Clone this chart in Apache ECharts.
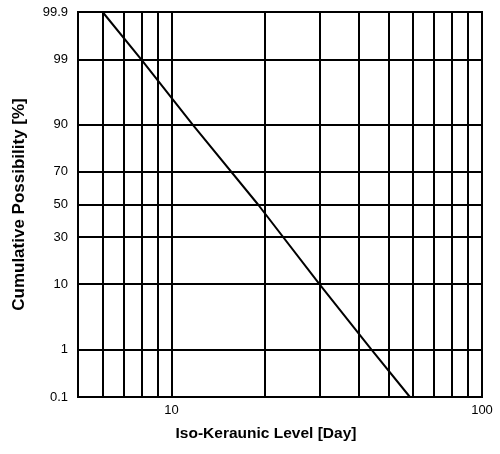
<!DOCTYPE html>
<html>
<head>
<meta charset="utf-8">
<script src="https://cdn.jsdelivr.net/npm/echarts@6/dist/echarts.min.js"></script>
<style>
  html, body { margin: 0; padding: 0; background: #fff; }
  #chart { width: 500px; height: 454px; }
</style>
</head>
<body>
<div id="chart"></div>
<script>
// values
const days = [6, 8, 11.7, 19, 30, 44, 58.6];
const percents = [99.9, 99, 90, 50, 10, 1, 0.1];
const probTicks = [0.1, 1, 10, 30, 50, 70, 90, 99, 99.9];
const dayGrid = [6, 7, 8, 9, 10, 20, 30, 40, 50, 60, 70, 80, 90];

// inverse normal cdf (Acklam), the y axis is a probability scale
const probit = (pct) => {
  const p = pct / 100;
  const a = [-39.69683028665376, 220.9460984245205, -275.9285104469687, 138.3577518672690, -30.66479806614716, 2.506628277459239];
  const b = [-54.47609879822406, 161.5858368580409, -155.6989798598866, 66.80131188771972, -13.28068155288572];
  const c = [-0.007784894002430293, -0.3223964580411365, -2.400758277161838, -2.549732539343734, 4.374664141464968, 2.938163982698783];
  const d = [0.007784695709041462, 0.3224671290700398, 2.445134137142996, 3.754408661907416];
  const pl = 0.02425;
  let q, r;
  if (p < pl) {
    q = Math.sqrt(-2 * Math.log(p));
    return (((((c[0] * q + c[1]) * q + c[2]) * q + c[3]) * q + c[4]) * q + c[5]) /
      ((((d[0] * q + d[1]) * q + d[2]) * q + d[3]) * q + 1);
  }
  if (p > 1 - pl) {
    q = Math.sqrt(-2 * Math.log(1 - p));
    return -(((((c[0] * q + c[1]) * q + c[2]) * q + c[3]) * q + c[4]) * q + c[5]) /
      ((((d[0] * q + d[1]) * q + d[2]) * q + d[3]) * q + 1);
  }
  q = p - 0.5;
  r = q * q;
  return (((((a[0] * r + a[1]) * r + a[2]) * r + a[3]) * r + a[4]) * r + a[5]) * q /
    (((((b[0] * r + b[1]) * r + b[2]) * r + b[3]) * r + b[4]) * r + 1);
};

const zTicks = probTicks.map(probit);
const zMax = probit(99.9);

const formatProb = (v) => {
  let best = 0;
  zTicks.forEach((z, i) => {
    if (Math.abs(z - v) < Math.abs(zTicks[best] - v)) best = i;
  });
  return String(probTicks[best]);
};

const gridLine = { color: '#000', width: 2, type: 'solid' };

const chart = echarts.init(document.getElementById('chart'), null, { renderer: 'canvas' });

chart.setOption({
  animation: false,
  textStyle: { fontFamily: 'Liberation Sans, Arial, sans-serif' },
  grid: {
    left: 78, right: 18, top: 12, bottom: 57,
    show: true, borderColor: '#000', borderWidth: 2
  },
  xAxis: {
    type: 'log',
    logBase: 10,
    min: 5,
    max: 100,
    name: 'Iso-Keraunic Level [Day]',
    nameLocation: 'middle',
    nameGap: 29,
    nameTextStyle: { fontSize: 15.5, fontWeight: 'bold', color: '#000', padding: [0, 28, 0, 0] },
    axisLine: { show: false },
    axisTick: { show: false },
    splitLine: { show: false },
    axisLabel: {
      showMinLabel: false,
      margin: 7,
      fontSize: 13,
      color: '#000'
    }
  },
  yAxis: {
    type: 'value',
    min: -zMax,
    max: zMax,
    name: 'Cumulative Possibility [%]',
    nameLocation: 'middle',
    nameRotate: 90,
    nameGap: 50,
    nameTextStyle: { fontSize: 17, fontWeight: 'bold', color: '#000' },
    axisLine: { show: false },
    axisTick: { show: false },
    splitLine: { show: false },
    axisLabel: {
      customValues: zTicks,
      formatter: formatProb,
      margin: 10,
      fontSize: 13,
      color: '#000'
    }
  },
  series: [
    {
      type: 'line',
      data: days.map((d, i) => [d, probit(percents[i])]),
      showSymbol: false,
      lineStyle: { color: '#000', width: 2 },
      markLine: {
        silent: true,
        symbol: 'none',
        label: { show: false },
        lineStyle: gridLine,
        data: [
          ...dayGrid.map(v => ({ xAxis: v })),
          ...zTicks.slice(1, -1).map(v => ({ yAxis: v }))
        ]
      }
    }
  ]
});
</script>
</body>
</html>
